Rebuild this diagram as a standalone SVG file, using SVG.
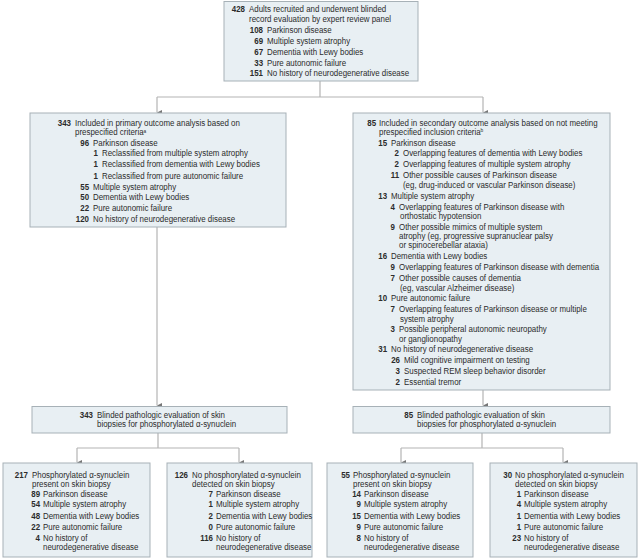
<svg xmlns="http://www.w3.org/2000/svg" width="640" height="559" viewBox="0 0 640 559">
<defs>
<style>
.bg{fill:#ffffff}
.box{fill:#e8eff3;stroke:#a7b1b7;stroke-width:1}
.ln{fill:none;stroke:#b4b4b4;stroke-width:1.2}
text{font-family:"Liberation Sans",Arial,sans-serif;font-size:9px;fill:#2b2b2b;transform-box:fill-box;transform-origin:0 0;transform:scaleX(0.88)}
.n{font-weight:bold;text-anchor:end;transform-origin:100% 0}
.sup{font-size:5.5px}
</style>
<marker id="ah" viewBox="0 0 6 6" refX="3" refY="6" markerWidth="5" markerHeight="5" markerUnits="userSpaceOnUse" orient="auto-start-reverse">
<path d="M0,0 L6,0 L3,6 Z" fill="#777"/>
</marker>
</defs>
<rect class="bg" x="0" y="0" width="640" height="559"/>

<g id="connectors">
<path class="ln" d="M320,81 V97 M157,97 H483"/>
<path class="ln" d="M157,97 V112.5" marker-end="url(#ah)"/>
<path class="ln" d="M483,97 V112.5" marker-end="url(#ah)"/>
<path class="ln" d="M157,227 V405.5" marker-end="url(#ah)"/>
<path class="ln" d="M483,390 V405.5" marker-end="url(#ah)"/>
<path class="ln" d="M158,433 V448 M77,448 H239 M401,448 H563 M482,433 V448"/>
<path class="ln" d="M77,448 V462.5" marker-end="url(#ah)"/>
<path class="ln" d="M239,448 V462.5" marker-end="url(#ah)"/>
<path class="ln" d="M401,448 V462.5" marker-end="url(#ah)"/>
<path class="ln" d="M563,448 V462.5" marker-end="url(#ah)"/>
</g>

<g id="node-recruited">
<rect class="box" x="224" y="1.5" width="194" height="79.5"/>
<text class="n" x="245" y="12">428</text><text x="249" y="12">Adults recruited and underwent blinded</text>
<text x="249" y="22.3">record evaluation by expert review panel</text>
<text class="n" x="263" y="33">108</text><text x="267" y="33">Parkinson disease</text>
<text class="n" x="263" y="44.5">69</text><text x="267" y="44.5">Multiple system atrophy</text>
<text class="n" x="263" y="55.3">67</text><text x="267" y="55.3">Dementia with Lewy bodies</text>
<text class="n" x="263" y="65.7">33</text><text x="267" y="65.7">Pure autonomic failure</text>
<text class="n" x="263" y="76.3">151</text><text x="267" y="76.3">No history of neurodegenerative disease</text>
</g>

<g id="node-primary">
<rect class="box" x="30" y="113" width="256" height="114"/>
<text class="n" x="71" y="126.3">343</text><text x="75" y="126.3">Included in primary outcome analysis based on</text>
<text x="75" y="135.3">prespecified criteria<tspan class="sup" dy="-2.5">a</tspan></text>
<text class="n" x="89" y="146.3">96</text><text x="93" y="146.3">Parkinson disease</text>
<text class="n" x="98" y="156.3">1</text><text x="102" y="156.3">Reclassified from multiple system atrophy</text>
<text class="n" x="98" y="167.3">1</text><text x="102" y="167.3">Reclassified from dementia with Lewy bodies</text>
<text class="n" x="98" y="178.7">1</text><text x="102" y="178.7">Reclassified from pure autonomic failure</text>
<text class="n" x="89" y="189.7">55</text><text x="93" y="189.7">Multiple system atrophy</text>
<text class="n" x="89" y="200.3">50</text><text x="93" y="200.3">Dementia with Lewy bodies</text>
<text class="n" x="89" y="211.3">22</text><text x="93" y="211.3">Pure autonomic failure</text>
<text class="n" x="89" y="222">120</text><text x="93" y="222">No history of neurodegenerative disease</text>
</g>

<g id="node-secondary">
<rect class="box" x="353" y="113" width="257" height="277"/>
<text class="n" x="376" y="126">85</text><text x="379" y="126">Included in secondary outcome analysis based on not meeting</text>
<text x="379" y="135">prespecified inclusion criteria<tspan class="sup" dy="-2.5">b</tspan></text>
<text class="n" x="387" y="145.7">15</text><text x="391" y="145.7">Parkinson disease</text>
<text class="n" x="399" y="156.3">2</text><text x="403" y="156.3">Overlapping features of dementia with Lewy bodies</text>
<text class="n" x="399" y="167">2</text><text x="403" y="167">Overlapping features of multiple system atrophy</text>
<text class="n" x="399" y="178">11</text><text x="403" y="178">Other possible causes of Parkinson disease</text>
<text x="403" y="188">(eg, drug-induced or vascular Parkinson disease)</text>
<text class="n" x="387" y="199">13</text><text x="391" y="199">Multiple system atrophy</text>
<text class="n" x="395" y="209.7">4</text><text x="399" y="209.7">Overlapping features of Parkinson disease with</text>
<text x="400" y="219">orthostatic hypotension</text>
<text class="n" x="395" y="229.7">9</text><text x="399" y="229.7">Other possible mimics of multiple system</text>
<text x="399" y="238.7">atrophy (eg, progressive supranuclear palsy</text>
<text x="399" y="248">or spinocerebellar ataxia)</text>
<text class="n" x="387" y="259">16</text><text x="391" y="259">Dementia with Lewy bodies</text>
<text class="n" x="395" y="269.7">9</text><text x="399" y="269.7">Overlapping features of Parkinson disease with dementia</text>
<text class="n" x="395" y="281.3">7</text><text x="399" y="281.3">Other possible causes of dementia</text>
<text x="400" y="290.7">(eg, vascular Alzheimer disease)</text>
<text class="n" x="387" y="301.3">10</text><text x="391" y="301.3">Pure autonomic failure</text>
<text class="n" x="395" y="312">7</text><text x="399" y="312">Overlapping features of Parkinson disease or multiple</text>
<text x="400" y="322">system atrophy</text>
<text class="n" x="395" y="332.3">3</text><text x="399" y="332.3">Possible peripheral autonomic neuropathy</text>
<text x="399" y="342">or ganglionopathy</text>
<text class="n" x="387" y="352.3">31</text><text x="391" y="352.3">No history of neurodegenerative disease</text>
<text class="n" x="400" y="363">26</text><text x="404" y="363">Mild cognitive impairment on testing</text>
<text class="n" x="400" y="374">3</text><text x="404" y="374">Suspected REM sleep behavior disorder</text>
<text class="n" x="400" y="384.7">2</text><text x="404" y="384.7">Essential tremor</text>
</g>

<g id="node-eval-primary">
<rect class="box" x="32" y="406.5" width="255" height="26.5"/>
<text class="n" x="93" y="417.7">343</text><text x="97" y="417.7">Blinded pathologic evaluation of skin</text>
<text x="97" y="427.3">biopsies for phosphorylated α-synuclein</text>
</g>

<g id="node-eval-secondary">
<rect class="box" x="353" y="406.5" width="257" height="26.5"/>
<text class="n" x="413" y="417.7">85</text><text x="417" y="417.7">Blinded pathologic evaluation of skin</text>
<text x="417" y="427.3">biopsies for phosphorylated α-synuclein</text>
</g>

<g id="node-primary-positive">
<rect class="box" x="3" y="463" width="147" height="94"/>
<text class="n" x="28" y="478">217</text><text x="32" y="478">Phosphorylated α-synuclein</text>
<text x="32" y="487">present on skin biopsy</text>
<text class="n" x="40" y="497">89</text><text x="43" y="497">Parkinson disease</text>
<text class="n" x="40" y="507.3">54</text><text x="43" y="507.3">Multiple system atrophy</text>
<text class="n" x="40" y="518.7">48</text><text x="43" y="518.7">Dementia with Lewy bodies</text>
<text class="n" x="40" y="529.7">22</text><text x="43" y="529.7">Pure autonomic failure</text>
<text class="n" x="40" y="540.7">4</text><text x="43" y="540.7">No history of</text>
<text x="43" y="550.3">neurodegenerative disease</text>
</g>

<g id="node-primary-negative">
<rect class="box" x="167" y="463" width="145" height="94"/>
<text class="n" x="188" y="478">126</text><text x="192" y="478">No phosphorylated α-synuclein</text>
<text x="192" y="487">detected on skin biopsy</text>
<text class="n" x="213" y="497">7</text><text x="216" y="497">Parkinson disease</text>
<text class="n" x="213" y="507.3">1</text><text x="216" y="507.3">Multiple system atrophy</text>
<text class="n" x="213" y="518.7">2</text><text x="216" y="518.7">Dementia with Lewy bodies</text>
<text class="n" x="213" y="529.7">0</text><text x="216" y="529.7">Pure autonomic failure</text>
<text class="n" x="213" y="540.7">116</text><text x="216" y="540.7">No history of</text>
<text x="216" y="550.3">neurodegenerative disease</text>
</g>

<g id="node-secondary-positive">
<rect class="box" x="327" y="463" width="146" height="94"/>
<text class="n" x="350" y="478">55</text><text x="353" y="478">Phosphorylated α-synuclein</text>
<text x="353" y="487">present on skin biopsy</text>
<text class="n" x="361" y="497">14</text><text x="364" y="497">Parkinson disease</text>
<text class="n" x="361" y="507.3">9</text><text x="364" y="507.3">Multiple system atrophy</text>
<text class="n" x="361" y="518.7">15</text><text x="364" y="518.7">Dementia with Lewy bodies</text>
<text class="n" x="361" y="529.7">9</text><text x="364" y="529.7">Pure autonomic failure</text>
<text class="n" x="361" y="540.7">8</text><text x="364" y="540.7">No history of</text>
<text x="364" y="550.3">neurodegenerative disease</text>
</g>

<g id="node-secondary-negative">
<rect class="box" x="490" y="463" width="147" height="94"/>
<text class="n" x="512" y="478">30</text><text x="515" y="478">No phosphorylated α-synuclein</text>
<text x="515" y="487">detected on skin biopsy</text>
<text class="n" x="521" y="497">1</text><text x="524" y="497">Parkinson disease</text>
<text class="n" x="521" y="507.3">4</text><text x="524" y="507.3">Multiple system atrophy</text>
<text class="n" x="521" y="518.7">1</text><text x="524" y="518.7">Dementia with Lewy bodies</text>
<text class="n" x="521" y="529.7">1</text><text x="524" y="529.7">Pure autonomic failure</text>
<text class="n" x="521" y="540.7">23</text><text x="524" y="540.7">No history of</text>
<text x="524" y="550.3">neurodegenerative disease</text>
</g>
</svg>
